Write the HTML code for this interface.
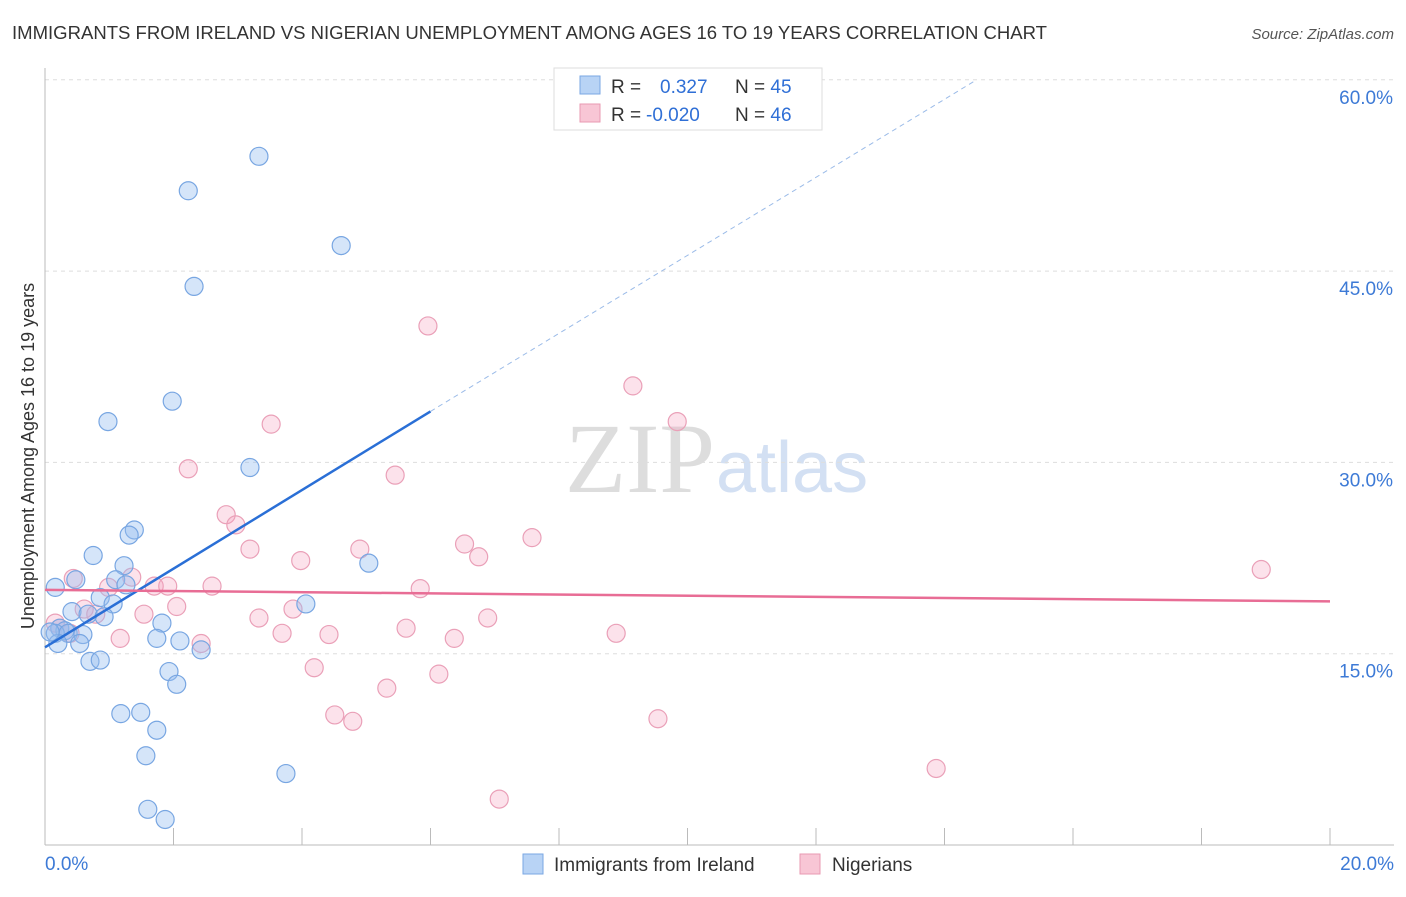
<!DOCTYPE html>
<html><head><meta charset="utf-8"><style>
body{margin:0;background:#fff;font-family:"Liberation Sans",sans-serif}
</style></head><body>
<svg id="c" width="1406" height="892" xmlns="http://www.w3.org/2000/svg" style="font-family:'Liberation Sans',sans-serif">
<text x="12" y="39" font-size="18.5" fill="#333" textLength="1035" lengthAdjust="spacingAndGlyphs">IMMIGRANTS FROM IRELAND VS NIGERIAN UNEMPLOYMENT AMONG AGES 16 TO 19 YEARS CORRELATION CHART</text>
<text x="1394" y="39" font-size="15" fill="#555" font-style="italic" text-anchor="end">Source: ZipAtlas.com</text>
<text x="715" y="492" font-size="100" fill="#ddd" text-anchor="end" font-family="Liberation Serif">ZIP</text>
<text x="716" y="492" font-size="72" fill="#d3e0f3">atlas</text>
<g id="grid"></g><g id="axes"></g><g id="pts"></g><g id="lines"></g>
<text transform="translate(34,456) rotate(-90)" font-size="18" fill="#333" text-anchor="middle">Unemployment Among Ages 16 to 19 years</text>
<g>
<rect x="554" y="68" width="268" height="62" fill="#fff" stroke="#ddd"/>
<rect x="580" y="76" width="20" height="18" fill="#b8d3f5" stroke="#7aa7e3"/>
<rect x="580" y="104" width="20" height="18" fill="#f8c6d5" stroke="#e899b2"/>
<text x="611" y="93" font-size="19" fill="#333">R = <tspan fill="#2f6fd6" x="660">0.327</tspan><tspan x="735">N = </tspan><tspan fill="#2f6fd6">45</tspan></text>
<text x="611" y="121" font-size="19" fill="#333">R = <tspan fill="#2f6fd6" x="646">-0.020</tspan><tspan x="735">N = </tspan><tspan fill="#2f6fd6">46</tspan></text>
</g>
<g>
<rect x="523" y="854" width="20" height="20" fill="#b8d3f5" stroke="#7aa7e3"/>
<text x="554" y="871" font-size="19" fill="#333">Immigrants from Ireland</text>
<rect x="800" y="854" width="20" height="20" fill="#f8c6d5" stroke="#e899b2"/>
<text x="832" y="871" font-size="19" fill="#333">Nigerians</text>
</g>
</svg>
<script>
const yTicks=[15,30,45,60];
const xTickLabels=["0.0%","20.0%"];
const blueX=[3.33,2.23,4.61,2.32,1.98,0.98,3.19,1.39,1.31,0.75,1.23,0.16,0.48,1.10,1.26,0.86,1.06,0.42,0.67,0.92,1.82,5.04,4.06,0.23,0.31,0.16,0.36,0.59,0.20,0.54,1.74,2.10,2.43,0.70,0.86,1.93,2.05,1.18,1.49,1.74,1.57,3.75,1.60,1.87,0.08];
const blueY=[54.0,51.3,47.0,43.8,34.8,33.2,29.6,24.7,24.3,22.7,21.9,20.2,20.8,20.8,20.4,19.4,18.9,18.3,18.1,17.9,17.4,22.1,18.9,17.0,16.8,16.6,16.6,16.5,15.8,15.8,16.2,16.0,15.3,14.4,14.5,13.6,12.6,10.3,10.4,9.0,7.0,5.6,2.8,2.0,16.7];
const pinkX=[5.96,9.15,9.84,3.52,2.23,5.45,2.82,2.97,7.58,6.53,3.19,4.90,6.75,3.98,18.93,0.44,1.35,0.99,1.70,1.91,2.60,5.84,0.61,2.05,3.86,0.79,1.54,3.33,6.89,5.62,0.16,0.23,0.39,1.17,2.43,3.69,4.42,6.37,8.89,4.19,6.13,5.32,4.51,4.79,9.54,13.87,7.07];
const pinkY=[40.7,36.0,33.2,33.0,29.5,29.0,25.9,25.1,24.1,23.6,23.2,23.2,22.6,22.3,21.6,20.9,21.0,20.2,20.3,20.3,20.3,20.1,18.5,18.7,18.5,18.1,18.1,17.8,17.8,17.0,17.4,17.0,16.6,16.2,15.8,16.6,16.5,16.2,16.6,13.9,13.4,12.3,10.2,9.7,9.9,6.0,3.6];
const blueLine={x0:0,y0:15.5,x1:6,y1:34.0,x2:14.5,y2:60};
const pinkLine={x0:0,y0:20.0,x1:20,y1:19.1};
const NS="http://www.w3.org/2000/svg";
const X=v=>45+v/20*1285, Y=v=>845-v/15*191.3;
function mk(t,a,p){const e=document.createElementNS(NS,t);for(const k in a)e.setAttribute(k,a[k]);document.getElementById(p).appendChild(e);return e;}
yTicks.forEach(t=>{const g=mk('line',{x1:45,x2:1394,y1:Y(t),y2:Y(t),stroke:'#ddd','stroke-dasharray':'4,4'},'grid');


const l=mk('text',{x:1393,y:Y(t)+24,'font-size':19,fill:'#3d7ad6','text-anchor':'end'},'axes');l.textContent=t.toFixed(1)+'%';

});
const ax=mk('line',{x1:45,x2:45,y1:68,y2:845,stroke:'#bbb'},'axes');


const bx=mk('line',{x1:45,x2:1394,y1:845,y2:845,stroke:'#bbb'},'axes');


for(let i=0;i<=10;i++){const t=mk('line',{x1:X(i*2),x2:X(i*2),y1:828,y2:845,stroke:'#bbb'},'axes');

}
[[0,45,'start'],[1,1394,'end']].forEach(([i,x,a])=>{const t=mk('text',{x:x,y:870,'font-size':19,fill:'#3d7ad6','text-anchor':a},'axes');t.textContent=xTickLabels[i];

});
pinkX.forEach((v,i)=>{const c=mk('circle',{cx:X(v),cy:Y(pinkY[i]),r:9,fill:'rgba(244,160,190,0.3)',stroke:'#eaa0b8','stroke-width':1.2},'pts');

});
blueX.forEach((v,i)=>{const c=mk('circle',{cx:X(v),cy:Y(blueY[i]),r:9,fill:'rgba(150,190,240,0.4)',stroke:'#78a6e2','stroke-width':1.2},'pts');

});
const b1=mk('line',{x1:X(blueLine.x0),y1:Y(blueLine.y0),x2:X(blueLine.x1),y2:Y(blueLine.y1),stroke:'#2a6fd6','stroke-width':2.5},'lines');


const b2=mk('line',{x1:X(blueLine.x1),y1:Y(blueLine.y1),x2:X(blueLine.x2),y2:Y(blueLine.y2),stroke:'#9bbbe8','stroke-width':1,'stroke-dasharray':'5,4'},'lines');


const p1=mk('line',{x1:X(pinkLine.x0),y1:Y(pinkLine.y0),x2:X(pinkLine.x1),y2:Y(pinkLine.y1),stroke:'#e86d95','stroke-width':2.5},'lines');


</script>
</body></html>
